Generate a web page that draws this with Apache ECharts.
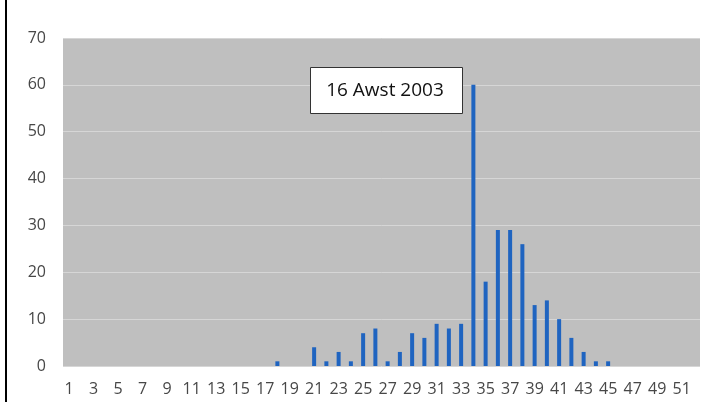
<!DOCTYPE html>
<html>
<head>
<meta charset="utf-8">
<script src="https://cdn.jsdelivr.net/npm/echarts@6/dist/echarts.min.js"></script>
<style>html,body{margin:0;padding:0;background:#fff;}#c{width:710px;height:402px;}</style>
</head>
<body>
<div id="c"></div>
<script>
const weeks = Array.from({length: 52}, (_, i) => String(i + 1));
const cases = [
  0,0,0,0,0,0,0,0,0,0,
  0,0,0,0,0,0,0,1,0,0,
  4,1,3,1,7,8,1,3,7,6,
  9,8,9,60,18,29,29,26,13,14,
  10,6,3,1,1,0,0,0,0,0,
  0,0
];
const yTicks = [0, 10, 20, 30, 40, 50, 60, 70];
const annotation = '16 Awst 2003';

const chart = echarts.init(document.getElementById('c'));
chart.setOption({
  animation: false,
  graphic: [
    {
      type: 'line', shape: { x1: 6, y1: 0, x2: 6, y2: 402 },
      style: { stroke: '#000', lineWidth: 2 }
    },
    {
      type: 'rect', z: 100,
      shape: { x: 310.5, y: 67.5, width: 152, height: 46 },
      style: { fill: '#fff', stroke: '#333', lineWidth: 1 }
    },
    {
      type: 'text', z: 101,
      x: 385, y: 91,
      style: { text: annotation, fontFamily: 'Open Sans', fontSize: 19, fill: '#111', align: 'center', verticalAlign: 'middle' }
    }
  ],
  grid: { left: 63, right: 10, top: 38, bottom: 36, show: true, backgroundColor: '#bfbfbf', borderWidth: 0 },
  xAxis: {
    type: 'category',
    data: weeks,
    axisLine: { show: false },
    axisTick: { show: false },
    axisLabel: { interval: 1, margin: 15, color: '#474747', fontFamily: 'Open Sans', fontSize: 16 }
  },
  yAxis: {
    type: 'value',
    min: yTicks[0], max: yTicks[yTicks.length - 1], interval: 10,
    axisLine: { show: false },
    axisTick: { show: false },
    axisLabel: { margin: 17, color: '#474747', fontFamily: 'Open Sans', fontSize: 16 },
    splitLine: { lineStyle: { color: '#d6d6d6', width: 1 } }
  },
  series: [{
    type: 'bar',
    data: cases,
    barWidth: 4,
    itemStyle: { color: '#1f64c0' }
  }]
});
</script>
</body>
</html>
